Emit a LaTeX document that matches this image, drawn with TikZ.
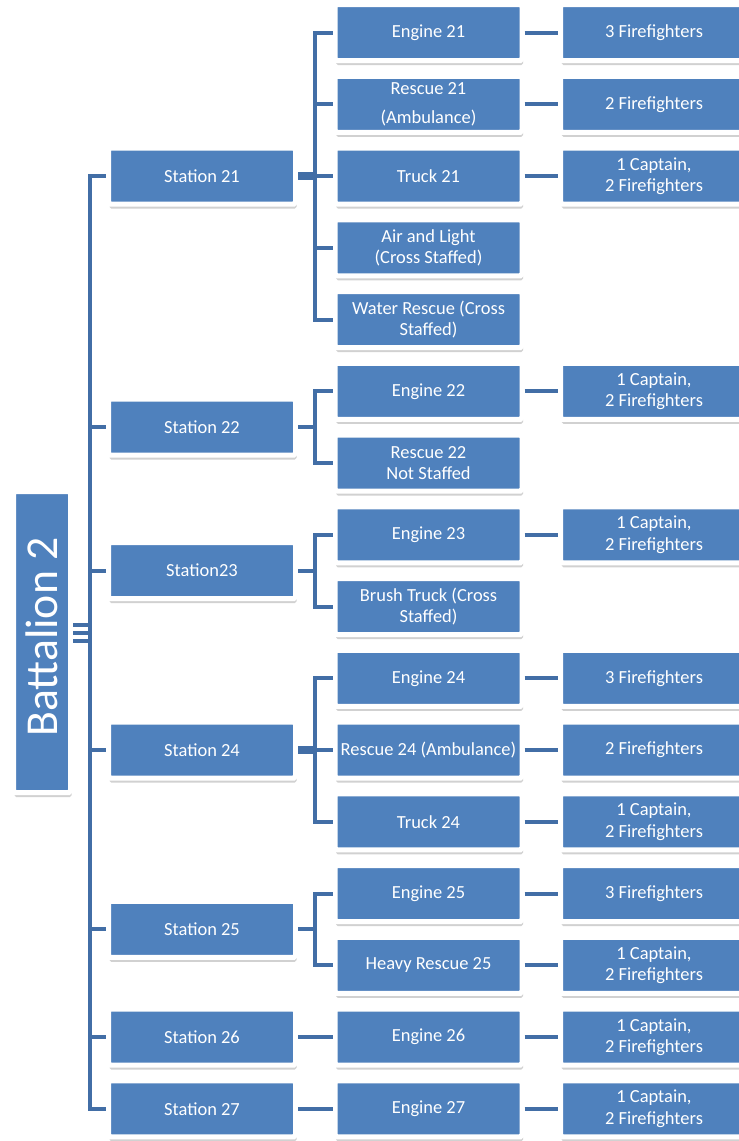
\documentclass[tikz,border=0pt]{standalone}
\usepackage{fontspec}
\setmainfont{Carlito}
\usetikzlibrary{calc}
\usetikzlibrary{shadows}
\definecolor{boxblue}{RGB}{79,129,189}
\definecolor{linkblue}{RGB}{66,110,166}
\tikzset{
  unit/.style={draw=white, line width=0.1cm, fill=boxblue, text=white,
    rounded corners=1pt, minimum width=3.74cm, minimum height=1.12cm,
    inner sep=1pt, align=center, font=\fontsize{10.5}{12}\selectfont,
    drop shadow={shadow xshift=0.02cm, shadow yshift=-0.09cm,
      opacity=0.18, fill=black}},
  link/.style={draw=linkblue, line width=0.08cm},
  stub/.style={link, line width=0.16cm},
}

\begin{document}
\begin{tikzpicture}
  \useasboundingbox (0,0) rectangle (14.78,-22.82);
  \coordinate (trunk) at (1.79,0);
  \coordinate (spine) at (6.30,0);

  \node[unit, minimum width=1.14cm, minimum height=6.02cm,
    font=\fontsize{26}{30}\selectfont] (bat) at (0.84,-12.84)
    {\raisebox{0.2cm}{\rotatebox{90}{Battalion 2}}};

  % stations
  \node[unit] (s21) at (4.04,-3.52) {Station 21};
  \node[unit] (s22) at (4.04,-8.5425) {Station 22};
  \node[unit] (s23) at (4.04,-11.4125) {Station23};
  \node[unit] (s24) at (4.04,-15.0) {Station 24};
  \node[unit] (s25) at (4.04,-18.5875) {Station 25};
  \node[unit] (s26) at (4.04,-20.74) {Station 26};
  \node[unit] (s27) at (4.04,-22.175) {Station 27};

  % apparatus
  \node[unit] (e21) at (8.57,-0.65) {Engine 21};
  \node[unit] (r21) at (8.57,-2.085) {Rescue 21\\[4pt](Ambulance)};
  \node[unit] (t21) at (8.57,-3.52) {Truck 21};
  \node[unit] (al21) at (8.57,-4.955) {Air and Light\\(Cross Staffed)};
  \node[unit] (wr21) at (8.57,-6.39) {Water Rescue (Cross\\Staffed)};
  \node[unit] (e22) at (8.57,-7.825) {Engine 22};
  \node[unit] (r22) at (8.57,-9.26) {Rescue 22\\Not Staffed};
  \node[unit] (e23) at (8.57,-10.695) {Engine 23};
  \node[unit] (bt23) at (8.57,-12.13) {Brush Truck (Cross\\Staffed)};
  \node[unit] (e24) at (8.57,-13.565) {Engine 24};
  \node[unit] (r24) at (8.57,-15.0) {Rescue 24 (Ambulance)};
  \node[unit] (t24) at (8.57,-16.435) {Truck 24};
  \node[unit] (e25) at (8.57,-17.87) {Engine 25};
  \node[unit] (hr25) at (8.57,-19.305) {Heavy Rescue 25};
  \node[unit] (e26) at (8.57,-20.74) {Engine 26};
  \node[unit] (e27) at (8.57,-22.175) {Engine 27};

  % crews
  \node[unit] (c-e21) at (13.08,-0.65) {3 Firefighters};
  \node[unit] (c-r21) at (13.08,-2.085) {2 Firefighters};
  \node[unit] (c-t21) at (13.08,-3.52) {1 Captain,\\2 Firefighters};
  \node[unit] (c-e22) at (13.08,-7.825) {1 Captain,\\2 Firefighters};
  \node[unit] (c-e23) at (13.08,-10.695) {1 Captain,\\2 Firefighters};
  \node[unit] (c-e24) at (13.08,-13.565) {3 Firefighters};
  \node[unit] (c-r24) at (13.08,-15.0) {2 Firefighters};
  \node[unit] (c-t24) at (13.08,-16.435) {1 Captain,\\2 Firefighters};
  \node[unit] (c-e25) at (13.08,-17.87) {3 Firefighters};
  \node[unit] (c-hr25) at (13.08,-19.305) {1 Captain,\\2 Firefighters};
  \node[unit] (c-e26) at (13.08,-20.74) {1 Captain,\\2 Firefighters};
  \node[unit] (c-e27) at (13.08,-22.175) {1 Captain,\\2 Firefighters};

  % battalion to stations
  \foreach \d in {0.02,0.18,0.34}
    \draw[link] ([yshift=\d cm]bat.east) -- ([yshift=\d cm]bat.east -| trunk);
  \foreach \s in {21,...,27}
    \draw[link] (bat.east -| trunk) |- (s\s.west);

  % stations to apparatus
  \draw[stub] (s21.east) -- (s21.east -| spine);
  \draw[stub] (s24.east) -- (s24.east -| spine);
  \foreach \s/\a in {21/e21,21/r21,21/t21,21/al21,21/wr21,22/e22,22/r22,
      23/e23,23/bt23,24/e24,24/r24,24/t24,25/e25,25/hr25}
    \draw[link] (s\s.east) -- (s\s.east -| spine) |- (\a.west);
  \draw[link] (s26.east) -- (e26.west);
  \draw[link] (s27.east) -- (e27.west);

  % apparatus to crews
  \foreach \a in {e21,r21,t21,e22,e23,e24,r24,t24,e25,hr25,e26,e27}
    \draw[link] (\a.east) -- (c-\a.west);
\end{tikzpicture}
\end{document}
